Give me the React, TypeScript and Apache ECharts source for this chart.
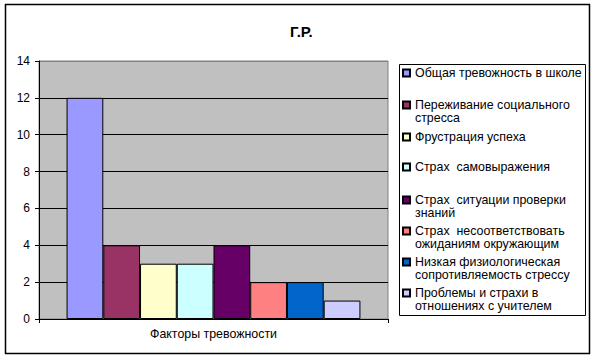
import React, { useEffect, useRef } from "react";
import * as echarts from "echarts";

const title = "Г.Р.";
const category = ["Факторы тревожности"];
const seriesNames = [
  "Общая тревожность в школе",
  "Переживание социального\nстресса",
  "Фрустрация успеха",
  "Страх  самовыражения",
  "Страх  ситуации проверки\nзнаний",
  "Страх  несоответствовать\nожиданиям окружающим",
  "Низкая физиологическая\nсопротивляемость стрессу",
  "Проблемы и страхи в\nотношениях с учителем",
];
const seriesValues = [12, 4, 3, 3, 4, 2, 2, 1];
const seriesColors = ["#9999FF", "#993366", "#FFFFCC", "#CCFFFF", "#660066", "#FF8080", "#0066CC", "#CCCCFF"];
const yTicks = [0, 2, 4, 6, 8, 10, 12, 14];
const legendTops = [66.5, 85.5, 130.5, 160.5, 180.5, 211.5, 242.5, 273.5];

const FONT = "'Liberation Sans', Arial, sans-serif";

export default function App() {
  const ref = useRef<HTMLDivElement>(null);
  useEffect(() => {
    document.body.style.margin = "0";
    const chart = echarts.init(ref.current!, null, { renderer: "svg" });
    const legends = seriesNames.map((name, i) => {
      const twoLine = name.includes("\n");
      return {
        show: true,
        data: [name],
        left: 402,
        top: legendTops[i],
        padding: 0,
        itemWidth: 7,
        itemHeight: 7,
        icon: "rect",
        selectedMode: false,
        formatter: (n: string) => (twoLine ? "\n" + n : n),
        textStyle: {
          fontFamily: FONT,
          fontSize: 12.4,
          color: "#000",
          lineHeight: 13,
        },
      };
    });
    chart.setOption({
      animation: false,
      backgroundColor: "#fff",
      textStyle: { fontFamily: FONT },
      title: {
        text: title,
        left: 285,
        top: 19,
        textStyle: { fontFamily: FONT, fontSize: 15, fontWeight: "bold", color: "#000" },
      },
      graphic: [
        {
          type: "rect",
          z: -10,
          shape: { x: 5.5, y: 4.5, width: 584, height: 349 },
          style: { fill: "none", stroke: "#000", lineWidth: 1.5 },
        },
        {
          type: "rect",
          z: -10,
          shape: { x: 399.5, y: 64.5, width: 186, height: 251 },
          style: { fill: "none", stroke: "#000", lineWidth: 1 },
        },
      ],
      legend: legends,
      grid: {
        left: 39,
        top: 61,
        width: 349,
        height: 258,
        show: true,
        backgroundColor: "#C0C0C0",
        borderColor: "#808080",
        borderWidth: 1,
      },
      xAxis: {
        type: "category",
        data: category,
        axisLine: { lineStyle: { color: "#000", width: 1 } },
        axisTick: { show: true, length: 4, lineStyle: { color: "#000" } },
        axisLabel: { margin: 9, fontFamily: FONT, fontSize: 12.4, color: "#000" },
      },
      yAxis: {
        type: "value",
        min: 0,
        max: 14,
        interval: 2,
        axisLine: { show: true, lineStyle: { color: "#000", width: 1 } },
        axisTick: { show: true, length: 4, lineStyle: { color: "#000" } },
        axisLabel: { margin: 9, fontFamily: FONT, fontSize: 12, color: "#000" },
        splitLine: {
          show: true,
          lineStyle: { color: yTicks.map((t) => (t === 14 ? "#808080" : "#000")), width: 1 },
        },
      },
      series: seriesNames.map((name, i) => ({
        type: "bar",
        name,
        data: [seriesValues[i]],
        barGap: "0%",
        barCategoryGap: "15.8%",
        itemStyle: { color: seriesColors[i], borderColor: "#000", borderWidth: 1 },
      })),
    });
    return () => chart.dispose();
  }, []);
  return <div ref={ref} style={{ width: 596, height: 359 }} />;
}
